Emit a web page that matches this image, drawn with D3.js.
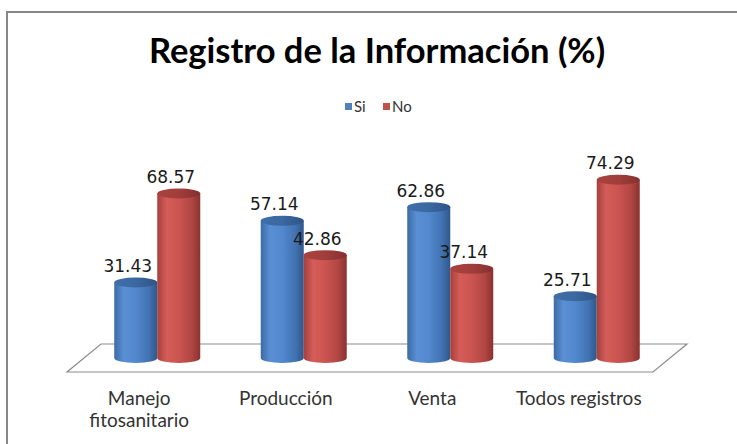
<!DOCTYPE html>
<html>
<head>
<meta charset="utf-8">
<script src="https://cdn.jsdelivr.net/npm/d3@7"></script>
<style>
  body { margin: 0; background: #fff; }
  svg { display: block; }
</style>
</head>
<body>
<div id="grafico"></div>
<script>
// Datos del gráfico
const categorias = [["Manejo", "fitosanitario"], ["Producción"], ["Venta"], ["Todos registros"]];
const series = ["Si", "No"];
const valoresSi = [31.43, 57.14, 62.86, 25.71];
const valoresNo = [68.57, 42.86, 37.14, 74.29];
const etiquetasValor = ["31.43", "57.14", "62.86", "25.71", "68.57", "42.86", "37.14", "74.29"];

const titulo = "Registro de la Información (%)";
const colores = { Si: "#4F81BD", No: "#C0504D" };

const width = 737, height = 444;
const base = 358;          // línea media del piso
const prof = { dx: 17, dy: 14 }; // mitad de la profundidad del piso

const svg = d3.select("#grafico").append("svg")
    .attr("width", width)
    .attr("height", height);

// Gradientes para los cilindros
const defs = svg.append("defs");
function gradiente(id, stops) {
    const g = defs.append("linearGradient").attr("id", id)
        .attr("x1", "0%").attr("x2", "100%").attr("y1", "0%").attr("y2", "0%");
    stops.forEach(s => g.append("stop").attr("offset", s[0]).attr("stop-color", s[1]));
}
gradiente("cuerpoSi", [["0%", "#3C6AA6"], ["22%", "#5A8FD3"], ["50%", "#5288CD"], ["80%", "#4273B3"], ["100%", "#30578A"]]);
gradiente("cuerpoNo", [["0%", "#A4403D"], ["22%", "#D45C59"], ["50%", "#CB5451"], ["80%", "#B14643"], ["100%", "#8A3230"]]);
gradiente("tapaSi", [["0%", "#3F6EAA"], ["50%", "#3B68A1"], ["100%", "#2E5485"]]);
gradiente("tapaNo", [["0%", "#A9423F"], ["50%", "#A13E3B"], ["100%", "#853030"]]);

// Marco
svg.append("path")
    .attr("d", `M7,${height + 5} L7,12 L${width + 5},12`)
    .attr("fill", "none")
    .attr("stroke", "#878787")
    .attr("stroke-width", 2);

// Título
svg.append("text")
    .attr("x", 377)
    .attr("y", 63)
    .attr("text-anchor", "middle")
    .attr("font-family", "Lato, 'Open Sans', sans-serif")
    .attr("font-weight", "bold")
    .attr("font-size", 34.5)
    .attr("fill", "#000")
    .text(titulo);

// Leyenda
const leyenda = svg.append("g");
const posLeyenda = [345, 383];
series.forEach((s, i) => {
    leyenda.append("rect")
        .attr("x", posLeyenda[i]).attr("y", 103)
        .attr("width", 7).attr("height", 7)
        .attr("fill", colores[s]);
    leyenda.append("text")
        .attr("x", posLeyenda[i] + 9).attr("y", 111.5)
        .attr("font-family", "Lato, sans-serif")
        .attr("font-size", 15)
        .attr("fill", "#333")
        .text(s);
});

// Escalas
const x = d3.scaleBand()
    .domain(d3.range(categorias.length))
    .range([84, 670]);

const xSerie = d3.scaleBand()
    .domain(series)
    .range([-43, 43]);

const y = d3.scaleLinear()
    .domain([0, 80])
    .range([base, base - 192]);

// Piso en perspectiva
const x0 = x.range()[0], x1 = x.range()[1];
svg.append("path")
    .attr("d", `M${x0 + prof.dx},${base - prof.dy} L${x1 + prof.dx},${base - prof.dy} L${x1 - prof.dx},${base + prof.dy} L${x0 - prof.dx},${base + prof.dy} Z`)
    .attr("fill", "#fff")
    .attr("stroke", "#8C8C8C")
    .attr("stroke-width", 1.2);

// Cilindros
const barras = [];
series.forEach((s, si) => {
    const vals = s === "Si" ? valoresSi : valoresNo;
    vals.forEach((v, i) => barras.push({ serie: s, cat: i, valor: v, etiqueta: etiquetasValor[si * 4 + i] }));
});

const rx = xSerie.bandwidth() / 2, ry = 5;
function cx(d) { return x(d.cat) + x.bandwidth() / 2 + xSerie(d.serie) + rx; }

// dibujar por categoría, primero Si y luego No (el rojo queda delante)
barras.sort((a, b) => a.cat - b.cat || series.indexOf(a.serie) - series.indexOf(b.serie));

const g = svg.append("g");
barras.forEach(d => {
    const c = cx(d), top = y(d.valor);
    g.append("path")
        .attr("d", `M${c - rx},${top} L${c - rx},${base} A${rx},${ry} 0 0 0 ${c + rx},${base} L${c + rx},${top} Z`)
        .attr("fill", `url(#cuerpo${d.serie})`);
    g.append("ellipse")
        .attr("cx", c).attr("cy", top)
        .attr("rx", rx).attr("ry", ry)
        .attr("fill", `url(#tapa${d.serie})`);
});

// Etiquetas de valor
svg.append("g").selectAll("text")
    .data(barras)
    .join("text")
    .attr("x", d => cx(d) - 8)
    .attr("y", d => y(d.valor) - 10.5)
    .attr("text-anchor", "middle")
    .attr("font-family", "'DejaVu Sans', sans-serif")
    .attr("font-size", 17)
    .attr("fill", "#1a1a1a")
    .text(d => d.etiqueta);

// Etiquetas de categoría (borde delantero del piso)
const ejeX = svg.append("g");
categorias.forEach((lineas, i) => {
    const cxCat = x(i) + x.bandwidth() / 2 - prof.dx - 1;
    const t = ejeX.append("text")
        .attr("x", cxCat)
        .attr("y", 405)
        .attr("text-anchor", "middle")
        .attr("font-family", "Lato, sans-serif")
        .attr("font-size", 19)
        .attr("fill", "#333");
    lineas.forEach((l, j) => {
        t.append("tspan")
            .attr("x", cxCat)
            .attr("dy", j === 0 ? 0 : 22)
            .text(l);
    });
});
</script>
</body>
</html>
